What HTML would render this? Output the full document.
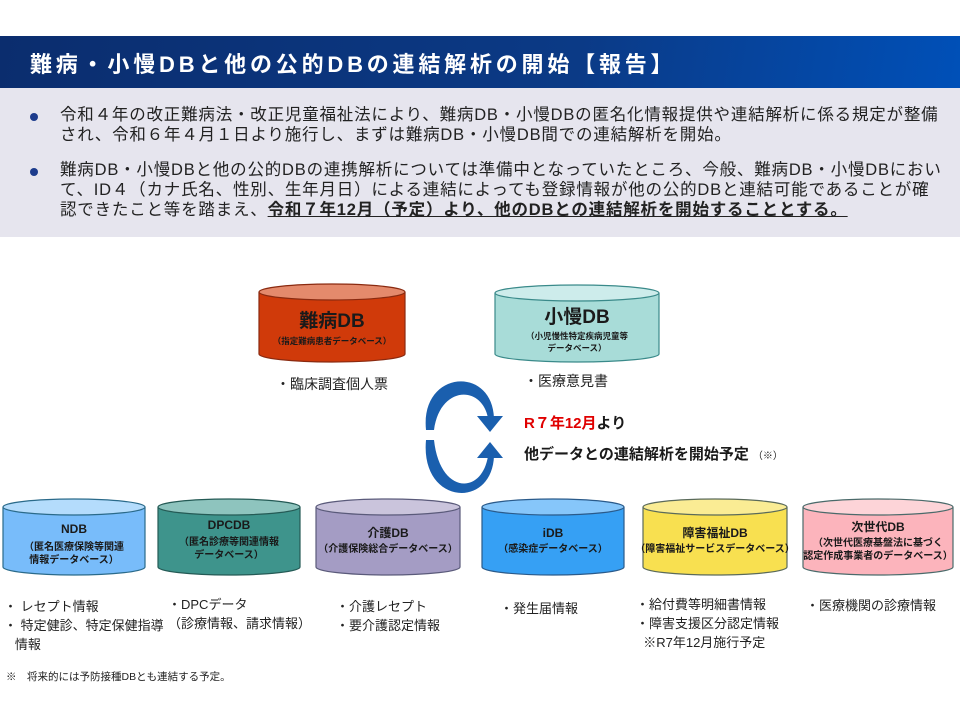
<!DOCTYPE html>
<html><head><meta charset="utf-8"><style>
body{margin:0;width:960px;height:720px;background:#fff;position:relative;overflow:hidden;font-family:"Liberation Sans","Noto Sans CJK JP",sans-serif;color:#222}
.hdr{position:absolute;left:0;top:36px;width:960px;height:52px;background:linear-gradient(100deg,#0b2d6e 0%,#0b3a86 60%,#0050b8 100%)}
.hdr span{position:absolute;left:30px;top:11px;color:#fff;font-size:22px;font-weight:bold;letter-spacing:3.8px;white-space:nowrap}
.gray{position:absolute;left:0;top:88px;width:960px;height:149px;background:#e6e5ee}
.p{position:absolute;left:60px;font-size:16.5px;line-height:20px;white-space:nowrap;letter-spacing:0.8px}
.dot{position:absolute;left:30px;width:8px;height:8px;border-radius:50%;background:#1d3c8c}
.t{position:absolute;font-size:14px;line-height:20px;white-space:nowrap}
</style></head><body>
<div class="hdr"><span>難病・小慢DBと他の公的DBの連結解析の開始【報告】</span></div>
<div class="gray"></div>
<div class="dot" style="top:113px"></div>
<div class="p" style="top:105px">令和４年の改正難病法・改正児童福祉法により、難病DB・小慢DBの匿名化情報提供や連結解析に係る規定が整備<br>され、令和６年４月１日より施行し、まずは難病DB・小慢DB間での連結解析を開始。</div>
<div class="dot" style="top:168px"></div>
<div class="p" style="top:160px">難病DB・小慢DBと他の公的DBの連携解析については準備中となっていたところ、今般、難病DB・小慢DBにおい<br>て、ID４（カナ氏名、性別、生年月日）による連結によっても登録情報が他の公的DBと連結可能であることが確<br>認できたこと等を踏まえ、<b style="text-decoration:underline">令和７年12月（予定）より、他のDBとの連結解析を開始することとする。</b></div>

<svg width="960" height="720" style="position:absolute;left:0;top:0" font-family="Liberation Sans, Noto Sans CJK JP, sans-serif" font-weight="bold" text-anchor="middle">
<g stroke="#8a2a10" stroke-width="1.2">
<path d="M259,292 v62 a73,8 0 0 0 146,0 v-62" fill="#d03a0a"/><ellipse cx="332" cy="292" rx="73" ry="8" fill="#e48a6c"/></g>
<g stroke="#3a8a8a" stroke-width="1.2">
<path d="M495,293 v61 a82,8 0 0 0 164,0 v-61" fill="#a8dcd8"/><ellipse cx="577" cy="293" rx="82" ry="8" fill="#cdeceb"/></g>
<g stroke="#2a6a8a" stroke-width="1.2">
<path d="M3,507 v60 a71,8 0 0 0 142,0 v-60" fill="#78bcfa"/><ellipse cx="74" cy="507" rx="71" ry="8" fill="#b4dcfc"/></g>
<g stroke="#245a55" stroke-width="1.2">
<path d="M158,507 v60 a71,8 0 0 0 142,0 v-60" fill="#3e948c"/><ellipse cx="229" cy="507" rx="71" ry="8" fill="#8ec4be"/></g>
<g stroke="#5a5a7a" stroke-width="1.2">
<path d="M316,507 v60 a72,8 0 0 0 144,0 v-60" fill="#a49cc4"/><ellipse cx="388" cy="507" rx="72" ry="8" fill="#cac4dc"/></g>
<g stroke="#2a5a8a" stroke-width="1.2">
<path d="M482,507 v60 a71,8 0 0 0 142,0 v-60" fill="#36a0f4"/><ellipse cx="553" cy="507" rx="71" ry="8" fill="#86c6fa"/></g>
<g stroke="#5a6a5a" stroke-width="1.2">
<path d="M643,507 v60 a72,8 0 0 0 144,0 v-60" fill="#f8e050"/><ellipse cx="715" cy="507" rx="72" ry="8" fill="#faec94"/></g>
<g stroke="#4a6a6a" stroke-width="1.2">
<path d="M803,507 v60 a75,8 0 0 0 150,0 v-60" fill="#fcb4bc"/><ellipse cx="878" cy="507" rx="75" ry="8" fill="#fdd4d8"/></g>

<g fill="#1a1a1a">
<text x="332" y="327" font-size="19">難病DB</text>
<text x="332" y="344" font-size="8.5">（指定難病患者データベース）</text>
<text x="577" y="323" font-size="19">小慢DB</text>
<text x="577" y="339" font-size="8.5">（小児慢性特定疾病児童等</text>
<text x="577" y="351" font-size="8.5">データベース）</text>
<text x="74" y="533" font-size="12">NDB</text>
<text x="74" y="550" font-size="10">（匿名医療保険等関連</text>
<text x="74" y="563" font-size="10">情報データベース）</text>
<text x="229" y="529" font-size="12">DPCDB</text>
<text x="229" y="545" font-size="10">（匿名診療等関連情報</text>
<text x="229" y="558" font-size="10">データベース）</text>
<text x="388" y="537" font-size="12">介護DB</text>
<text x="388" y="552" font-size="10">（介護保険総合データベース）</text>
<text x="553" y="537" font-size="12">iDB</text>
<text x="553" y="552" font-size="10">（感染症データベース）</text>
<text x="715" y="537" font-size="12">障害福祉DB</text>
<text x="715" y="552" font-size="10">（障害福祉サービスデータベース）</text>
<text x="878" y="531" font-size="12">次世代DB</text>
<text x="878" y="546" font-size="10">（次世代医療基盤法に基づく</text>
<text x="878" y="559" font-size="10">認定作成事業者のデータベース）</text>
</g>

<path d="M426,430 C420,370 492,365 494,418 L488,418 C482,385 440,385 434,430 Z" fill="#1a5fae"/>
<path d="M426,440 C420,505 492,510 494,456 L488,456 C482,495 440,495 434,440 Z" fill="#1a5fae"/>
<polygon points="477,416 503,416 490,432" fill="#1a5fae"/>
<polygon points="477,458 503,458 490,442" fill="#1a5fae"/>

<text x="524" y="428" font-size="15" text-anchor="start"><tspan fill="#e00000">R７年12月</tspan><tspan fill="#1a1a1a">より</tspan></text>
<text x="524" y="459" font-size="15" text-anchor="start" fill="#1a1a1a">他データとの連結解析を開始予定<tspan font-size="10" font-weight="normal" dx="4">（※）</tspan></text>
</svg>

<div class="t" style="left:276px;top:374px">・臨床調査個人票</div>
<div class="t" style="left:524px;top:371px">・医療意見書</div>
<div class="t" style="left:4px;top:597px;font-size:13px;line-height:19px">・ レセプト情報<br>・ 特定健診、特定保健指導<br>&nbsp;&nbsp;&nbsp;情報</div>
<div class="t" style="left:168px;top:595px;font-size:13px;line-height:19px">・DPCデータ<br>（診療情報、請求情報）</div>
<div class="t" style="left:336px;top:597px;font-size:13px;line-height:19px">・介護レセプト<br>・要介護認定情報</div>
<div class="t" style="left:500px;top:599px;font-size:13px">・発生届情報</div>
<div class="t" style="left:636px;top:595px;font-size:13px;line-height:19px">・給付費等明細書情報<br>・障害支援区分認定情報<br>&nbsp;&nbsp;※R7年12月施行予定</div>
<div class="t" style="left:806px;top:596px;font-size:13px">・医療機関の診療情報</div>
<div class="t" style="left:6px;top:667px;font-size:10.5px">※　将来的には予防接種DBとも連結する予定。</div>
</body></html>
